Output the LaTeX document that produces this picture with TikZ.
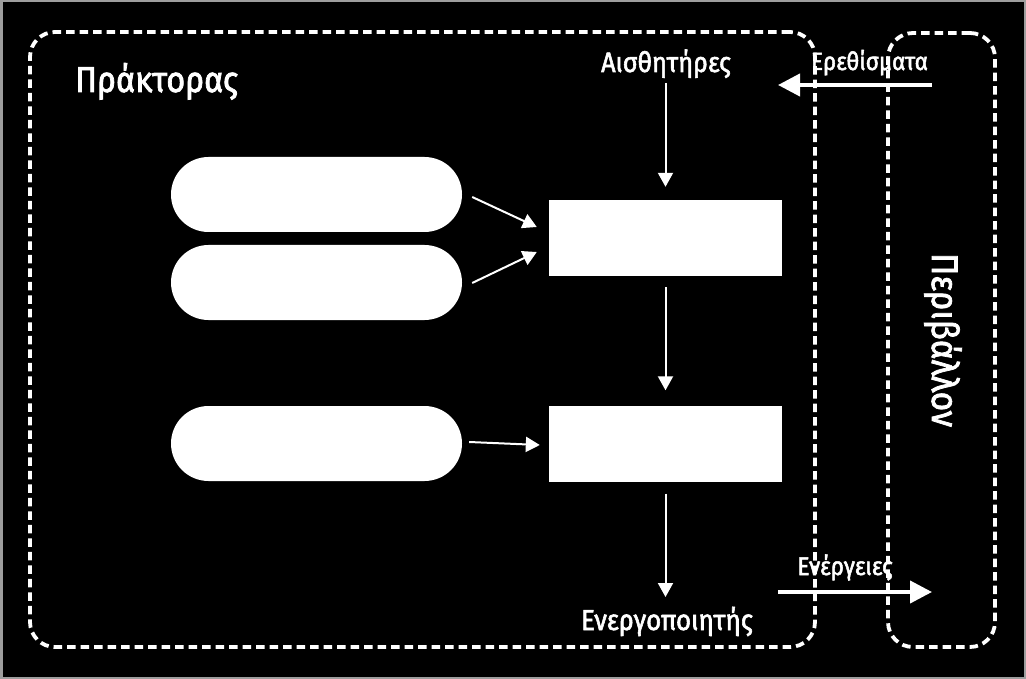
\documentclass[tikz,border=0pt]{standalone}
\usepackage{fontspec}
\setmainfont{Fira Sans}[FakeStretch=0.9, FakeBold=2]
\usetikzlibrary{arrows.meta,shapes.misc}
\tikzset{
  dbox/.style={draw=white, line width=3.8pt, dash pattern=on 8.5pt off 5pt, rounded corners=25pt, inner sep=0pt},
  pill/.style={rounded rectangle, fill=white, draw=none, minimum width=291pt, minimum height=75pt, inner sep=0pt},
  wbox/.style={rectangle, fill=white, draw=none, minimum width=233pt, minimum height=76pt, inner sep=0pt},
  thinarr/.style={draw=white, line width=2pt, -{Triangle[width=15pt,length=14pt]}},
  bigarr/.style={draw=white, line width=4pt, -{Triangle[width=22pt,length=22pt]}},
  lbl/.style={text=white, inner sep=0pt, anchor=base},
}
\begin{document}
\begin{tikzpicture}[x=1pt,y=-1pt]
\fill[black] (0,0) rectangle (1026,679);
\useasboundingbox (0,0) rectangle (1026,679);
\draw[black!38, line width=2.5pt] (1.25,1.25) rectangle (1024.75,677.75);
% boxes
\node[dbox, minimum width=785pt, minimum height=615pt] (agent) at (422.5,339.5) {};
\node[dbox, minimum width=107pt, minimum height=614pt] (env) at (941.5,340) {};
% labels
\node[lbl, anchor=base west, font=\fontsize{36}{40}\selectfont] (agentlbl) at (75,92) {Πράκτορας};
\node[lbl, font=\fontsize{28}{32}\selectfont] (sens) at (666,72) {Αισθητήρες};
\node[lbl, font=\fontsize{28.8}{32}\selectfont] (act) at (667,630) {Ενεργοποιητής};
\node[lbl, font=\fontsize{25}{28}\selectfont] (stim) at (869.5,70) {Ερεθίσματα};
\node[lbl, font=\fontsize{25.5}{28}\selectfont] (actions) at (845,575) {Ενέργειες};
\node[lbl, rotate=-90, font=\fontsize{37}{40}\selectfont] (envlbl) at (932,340) {Περιβάλλον};
% shapes
\node[pill] (p1) at (316.5,194.5) {};
\node[pill] (p2) at (316.5,282.5) {};
\node[pill] (p3) at (316.5,443.5) {};
\node[wbox] (r1) at (665.5,238) {};
\node[wbox] (r2) at (665.5,443.5) {};
% connectors
\draw[thinarr] ([xshift=10pt,yshift=-2.5pt]p1.east) -- ([xshift=-12pt,yshift=11pt]r1.west);
\draw[thinarr] ([xshift=10pt,yshift=-0.5pt]p2.east) -- ([xshift=-12pt,yshift=-14pt]r1.west);
\draw[thinarr] ([xshift=7pt,yshift=1.5pt]p3.east) -- ([xshift=-9pt,yshift=-1.5pt]r2.west);
\draw[thinarr, shorten <=11pt, shorten >=13pt] (sens.base -| r1.north) -- (r1.north);
\draw[thinarr, shorten <=11pt, shorten >=15pt] (r1.south) -- (r2.north);
\draw[thinarr, shorten <=12pt, shorten >=33pt] (r2.south) -- (r2.south |- act.base);
\coordinate (stimS) at (932,85);
\coordinate (stimE) at (778,85);
\draw[bigarr] (stimS) -- (stimE);
\coordinate (actS) at (778,592);
\coordinate (actE) at (932,592);
\draw[bigarr] (actS) -- (actE);
\end{tikzpicture}
\end{document}
